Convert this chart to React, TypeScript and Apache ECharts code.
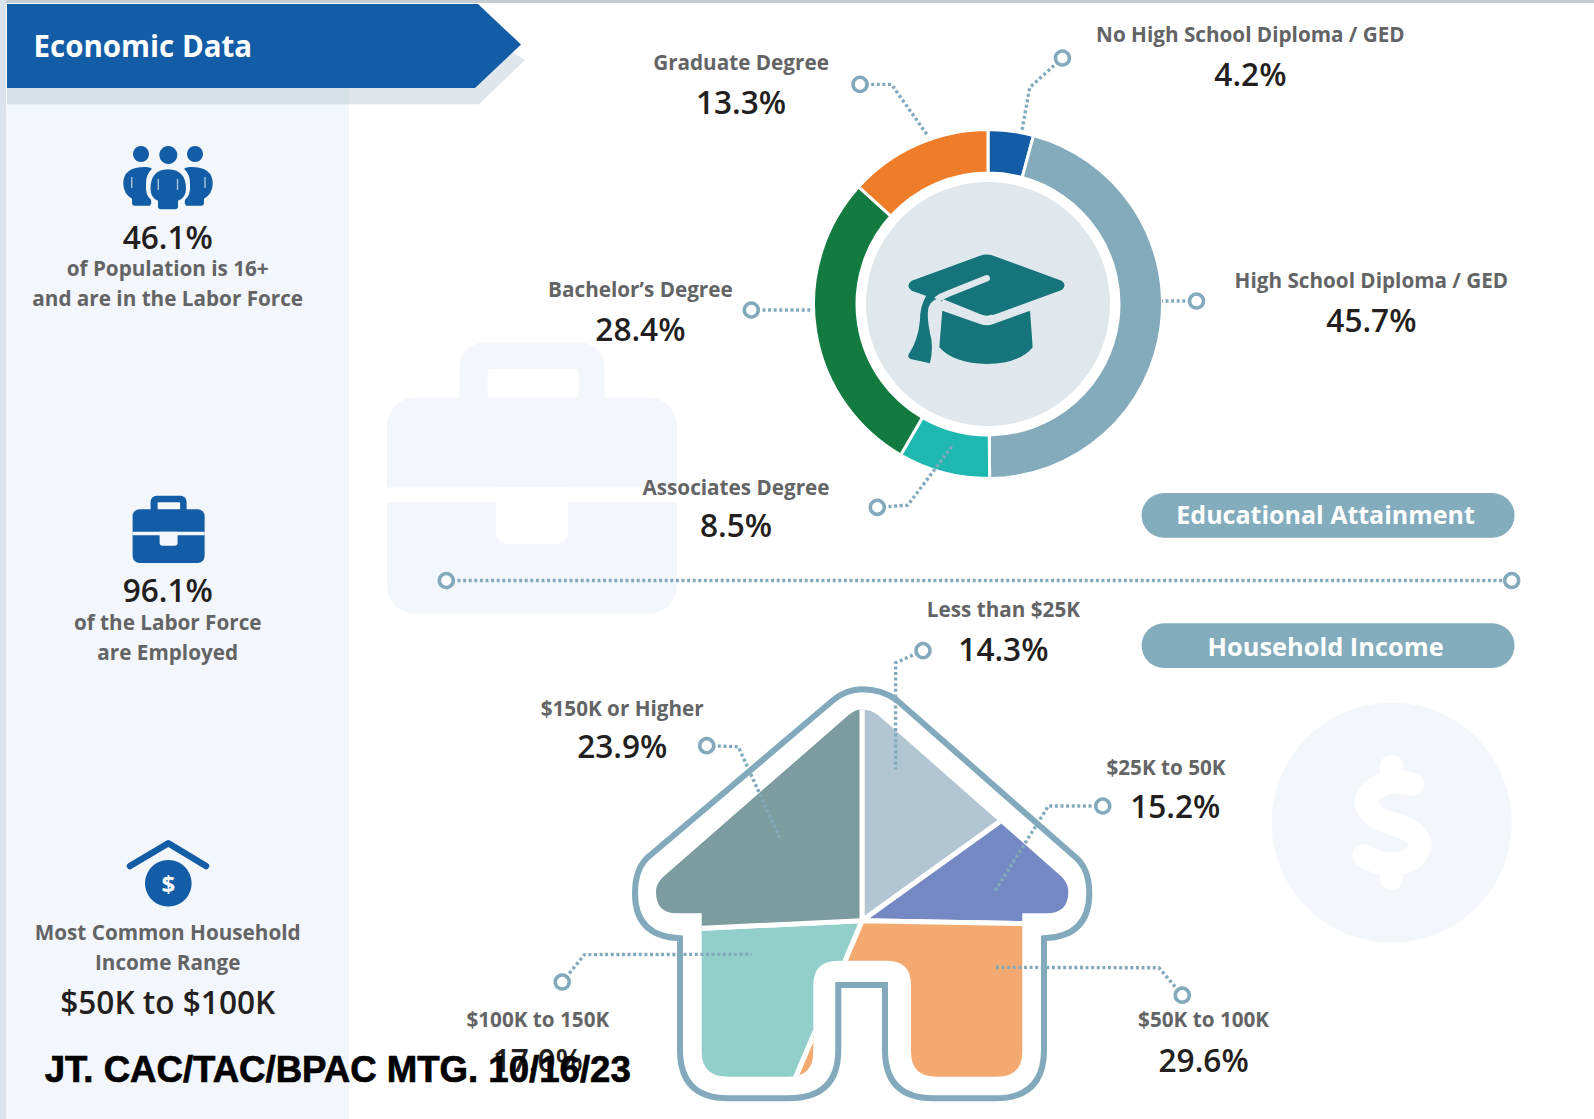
import React, { useEffect, useRef } from "react";
import * as echarts from "echarts";

// ---------- data ----------
const educationLabels = ["No High School Diploma / GED", "High School Diploma / GED", "Associates Degree", "Bachelor’s Degree", "Graduate Degree"];
const educationValues = [4.2, 45.7, 8.5, 28.4, 13.3];
const educationColors = ["#135ca6", "#84abbc", "#1fb8b1", "#137b40", "#ee7d29"];

const incomeLabels = ["Less than $25K", "$25K to 50K", "$50K to 100K", "$100K to 150K", "$150K or Higher"];
const incomeValues = [14.3, 15.2, 29.6, 17.0, 23.9];
// The reference's house is an illustration: the sweep of each wedge in degrees
const incomeDrawnSweep = [54.3, 36.7, 112, 64.3, 92.7];
const incomeColors = ["#b1c6d2", "#7489c3", "#f4a971", "#92cfca", "#7d9c9f"];

// ---------- layout ----------
const W = 1594, H = 1119;
const LINE = "#82aabc", GREY = "#636466", DARK = "#231f20", BLUE = "#135ca6", WASH = "#f3f6fa", CAP = "#15757a", DISC = "#e0e8ee";
const FONT = '"Open Sans", sans-serif';
const HOUSE_CENTER = [862, 920.7];

const fromZoom = (d: string, ox: number, oy: number, s: number) =>
  d.replace(/(-?[\d.]+) (-?[\d.]+)/g, (_m, a, b) => `${(ox + +a / s).toFixed(1)} ${(oy + +b / s).toFixed(1)}`);
const house = (d: string) => fromZoom(d, 600, 680, 3);
const cap = (d: string) => fromZoom(d, 780, 100, 3);

const HOUSE_INNER = house(
  "M 786 88 Q 815 90 835 106 L 1385 590 Q 1405 610 1405 635 Q 1405 700 1340 700 L 1267 700 L 1267 1115 Q 1267 1190 1190 1190 L 1010 1190 Q 933 1190 933 1115 L 933 915 Q 933 842 860 842 L 715 842 Q 640 842 640 915 L 640 1115 Q 640 1190 565 1190 L 385 1190 Q 305 1190 305 1115 L 305 700 L 230 700 Q 168 700 168 635 Q 168 610 190 590 L 745 106 Q 765 88 786 88 Z"
);
const HOUSE_OUTLINE = house(
  "M 786 28 Q 845 28 890 60 L 1430 535 Q 1468 570 1468 640 Q 1468 770 1332 775 L 1332 1110 Q 1332 1255 1185 1255 L 1000 1255 Q 855 1255 855 1110 L 855 915 L 715 915 L 715 1110 Q 715 1255 565 1255 L 385 1255 Q 240 1255 240 1110 L 240 775 Q 105 770 105 640 Q 105 570 140 535 L 700 60 Q 740 28 786 28 Z"
);
const CAP_TOP = cap(
  "M 600 467 Q 620 460 640 467 L 845 542 Q 862 555 845 570 L 640 645 Q 620 652 600 645 L 395 572 Q 375 557 395 542 Z"
);
const CAP_BASE = cap(
  "M 487 632 L 600 672 Q 620 680 640 672 L 750 632 L 758 742 Q 720 790 620 792 Q 520 790 478 742 Z"
);
const CAP_TASSEL = cap(
  "M 437 590 Q 420 620 420 660 Q 415 720 385 765 Q 383 775 395 778 L 450 790 Q 462 740 450 700 Q 440 650 445 625 Q 450 605 470 597 L 440 585 Z"
);
const CAP_RIBBON = cap("M 620 535 L 500 583 Q 465 595 450 625");
const CAP_BAND = cap("M 485 605 L 600 652 Q 620 660 640 652");
const PERSON_MID =
  "M168 169.3 Q186 169.7 186 188.7 Q186 197.7 178 200.7 L178 206.5 Q178 209.3 175 209.3 L161 209.3 Q158 209.3 158 206.5 L158 200.7 Q150.5 197.7 150.5 188.7 Q150.5 169.7 168 169.3 Z";
const PERSON_L =
  "M146 167 Q123 166.7 123.3 183.7 Q123.3 193.7 132 198.7 L132 202.7 Q132 205.7 135 205.7 L150 205.7 Q152 202.7 151 199.7 Q145 194.7 146 184.7 Q145.5 174.7 152 168.7 Q150 167 146 167 Z";
const PERSON_R =
  "M190 167 Q213 166.7 212.7 183.7 Q212.7 193.7 204 198.7 L204 202.7 Q204 205.7 201 205.7 L186 205.7 Q184 202.7 185 199.7 Q191 194.7 190 184.7 Q190.5 174.7 184 168.7 Q186 167 190 167 Z";
const DOLLAR_S = fromZoom(
  "M 458 283 Q 400 270 365 285 Q 310 310 320 345 Q 335 385 395 400 Q 480 425 480 465 Q 470 520 395 523 Q 345 520 312 497",
  1260, 690, 3
);

const shapes: Record<string, string> = {
  houseOutline: HOUSE_OUTLINE,
  capTop: CAP_TOP,
  capBase: CAP_BASE,
  capTassel: CAP_TASSEL,
  capRibbon: CAP_RIBBON,
  capBand: CAP_BAND,
  personMid: PERSON_MID,
  personL: PERSON_L,
  personR: PERSON_R,
  dollarS: DOLLAR_S,
};
Object.keys(shapes).forEach((k) => echarts.graphic.registerShape(k, echarts.graphic.extendPath(shapes[k], {})));

// ---------- graphic helpers ----------
const txt = (text: string, x: number, y: number, size: number, fill: string, weight: any = 600, align = "center", z = 7, family = FONT, extra: any = {}) => ({
  type: "text", x, y: y - 1, z, silent: true,
  style: { text, fontSize: size, fontWeight: weight, fontFamily: family, fill, textAlign: align, textVerticalAlign: "middle", ...extra },
});
const label = (text: string, x: number, y: number) => txt(text, x, y, 20.7, GREY, 700);
const value = (text: string, x: number, y: number) => txt(text, x, y, 31.6, DARK);
const ring = (x: number, y: number) => ({
  type: "circle", z: 6, silent: true, shape: { cx: x, cy: y, r: 7 }, style: { fill: "#fff", stroke: LINE, lineWidth: 3.5 },
});
const dots = (points: number[][]) => ({
  type: "polyline", z: 6, silent: true, shape: { points },
  style: { fill: "none", stroke: LINE, lineWidth: 3.4, lineDash: [3, 2.6] },
});
const rect = (x: number, y: number, width: number, height: number, fill: string, r: any = 0, z = 0) => ({
  type: "rect", z, silent: true, shape: { x, y, width, height, r }, style: { fill },
});
const circle = (cx: number, cy: number, r: number, fill: string, z = 6) => ({
  type: "circle", z, silent: true, shape: { cx, cy, r }, style: { fill },
});
const custom = (type: string, style: any, z = 6) => ({ type, z, silent: true, style });
const slit = (x: number, y1: number, y2: number) => ({
  type: "line", z: 7, silent: true, shape: { x1: x, y1, x2: x, y2 }, style: { stroke: "#a9c4dd", lineWidth: 1.4 },
});
const pct = (v: number) => `${v.toFixed(1)}%`;

const briefcase = (x: number, y: number, s: number, fill: string, gap: string, z: number) => [
  // proportions of the briefcase, in units of the small sidebar icon (72 wide, 67.3 tall)
  rect(x + 18 * s, y, 36 * s, 26 * s, fill, 6 * s, z),
  rect(x + 25 * s, y + 6.5 * s, 22.5 * s, 12 * s, gap, 1 * s, z),
  rect(x, y + 13.6 * s, 72 * s, 53.7 * s, fill, 7 * s, z),
  rect(x, y + 36 * s, 72 * s, 3.6 * s, gap, 0, z),
  rect(x + 27 * s, y + 36 * s, 18 * s, 14 * s, gap, [0, 0, 3 * s, 3 * s], z),
];

export default function App() {
  const ref = useRef<HTMLDivElement>(null);
  useEffect(() => {
    const chart = echarts.init(ref.current!, null, { renderer: "svg" });
    const [cx, cy] = HOUSE_CENTER;
    const elements: any[] = [
      // frame
      rect(0, 0, W, 3, "#c6cdd2", 0, 0),
      rect(0, 0, 6, H, "#dbe3ee", 0, 0),
      rect(6, 104.3, 343, H - 104.3, WASH, 0, 0),
      // banner
      { type: "polygon", z: 1, silent: true, shape: { points: [[7, 88], [490, 38], [525, 60], [479, 104.3], [7, 104.3]] }, style: { fill: "#dfe7ed" } },
      rect(7, 88, 342, 16.3, "#d5e1e6", 0, 1),
      { type: "polygon", z: 1, silent: true, shape: { points: [[7, 4], [478, 4], [521, 44.5], [475, 88], [7, 88]] }, style: { fill: BLUE } },
      txt("Economic Data", 33.5, 46.5, 29.5, "#fff", 700, "left"),
      // watermarks
      ...briefcase(387, 342.6, 290 / 72, WASH, "#fff", 0),
      circle(1391.7, 822.7, 120, WASH, 0),
      custom("dollarS", { fill: "none", stroke: "#fff", lineWidth: 23, lineCap: "round", lineJoin: "round" }, 0),
      rect(1380, 755, 23, 26, "#fff", 11, 0),
      rect(1380, 864, 23, 26, "#fff", 11, 0),
      // centre disc and cap
      circle(988, 304, 122, DISC, 0),
      custom("capTop", { fill: CAP }),
      custom("capBase", { fill: CAP }),
      custom("capRibbon", { fill: "none", stroke: DISC, lineWidth: 6.5, lineCap: "round" }),
      custom("capBand", { fill: "none", stroke: DISC, lineWidth: 6 }),
      custom("capTassel", { fill: CAP }),
      // house outline
      custom("houseOutline", { fill: "none", stroke: LINE, lineWidth: 6 }, 5),
      // sidebar: people
      circle(141, 154, 8, BLUE), circle(168.3, 155, 9, BLUE), circle(195, 154, 8, BLUE),
      custom("personL", { fill: BLUE }),
      custom("personMid", { fill: BLUE }),
      custom("personR", { fill: BLUE }),
      slit(158.3, 179, 190), slit(177.5, 179, 190), slit(131.7, 177, 188), slit(205, 177, 188),
      value("46.1%", 167.7, 237),
      label("of Population is 16+", 167.7, 269.4),
      label("and are in the Labor Force", 167.7, 298.9),
      // sidebar: briefcase
      ...briefcase(132.6, 495.7, 1, BLUE, WASH, 6),
      value("96.1%", 167.7, 590.6),
      label("of the Labor Force", 167.7, 623.2),
      label("are Employed", 167.7, 652.6),
      // sidebar: house & dollar
      {
        type: "polyline", z: 6, silent: true, shape: { points: [[130, 866], [168.3, 843.3], [206, 866]] },
        style: { fill: "none", stroke: BLUE, lineWidth: 6.5, lineCap: "round", lineJoin: "round" },
      },
      circle(168.3, 883.3, 23.3, BLUE),
      txt("$", 168.3, 884, 24, "#fff", 700),
      label("Most Common Household", 167.7, 933.2),
      label("Income Range", 167.7, 962.7),
      value("$50K to $100K", 167.7, 1002.4),
      // education labels
      label(educationLabels[4], 741, 63), value(pct(educationValues[4]), 741, 102.7),
      label(educationLabels[0], 1250.4, 34.6), value(pct(educationValues[0]), 1250.4, 74.5),
      label(educationLabels[1], 1371.4, 280.6), value(pct(educationValues[1]), 1371.4, 320.2),
      label(educationLabels[3], 640.4, 289.7), value(pct(educationValues[3]), 640.4, 329.4),
      label(educationLabels[2], 736, 488), value(pct(educationValues[2]), 736, 525.6),
      // pills
      rect(1141.6, 493, 373, 44.8, "#83acbd", 22.4, 3),
      txt("Educational Attainment", 1325.6, 515.4, 25, "#fff", 700),
      rect(1141.6, 623.2, 373, 44.8, "#83acbd", 22.4, 3),
      txt("Household Income", 1325.6, 646.6, 25.4, "#fff", 700),
      // income labels
      label(incomeLabels[0], 1003.4, 610), value(pct(incomeValues[0]), 1003.4, 649.6),
      label(incomeLabels[4], 622.2, 708.5), value(pct(incomeValues[4]), 622.2, 746.2),
      label(incomeLabels[1], 1166, 767.5), value(pct(incomeValues[1]), 1175.2, 806.2),
      label(incomeLabels[3], 537.8, 1019.6), value(pct(incomeValues[3]), 537.8, 1060.3),
      label(incomeLabels[2], 1203.6, 1019.6), value(pct(incomeValues[2]), 1203.6, 1060.3),
      // connectors
      dots([[860, 84.4], [891.5, 84.4], [928, 136]]), ring(860, 84.4),
      dots([[1062.4, 58], [1029.8, 87.4], [1021.7, 132]]), ring(1062.4, 58),
      dots([[1196.5, 301], [1162, 301]]), ring(1196.5, 301),
      dots([[751.3, 310], [813, 310]]), ring(751.3, 310),
      dots([[877.3, 507.3], [907.8, 505.2], [953.6, 444.2]]), ring(877.3, 507.3),
      dots([[446.3, 580.5], [1511.7, 580.5]]), ring(446.3, 580.5), ring(1511.7, 580.5),
      dots([[923, 650.6], [895.6, 662.8], [895.6, 769.6]]), ring(923, 650.6),
      dots([[706.7, 745.7], [738.3, 746.7], [781, 840.7]]), ring(706.7, 745.7),
      dots([[1102.7, 806], [1048.3, 806], [995, 891]]), ring(1102.7, 806),
      dots([[562.2, 982], [584.5, 954.6], [751.7, 954.3]]), ring(562.2, 982),
      dots([[1182.3, 995.2], [1159, 967.8], [995, 967.3]]), ring(1182.3, 995.2),
      // stamp
      txt("JT. CAC/TAC/BPAC MTG. 10/16/23", 44.7, 1070, 36.6, "#000", 700, "left", 9, '"Liberation Sans", Arial, sans-serif', { stroke: "#000", lineWidth: 0.7 }),
    ];

    chart.setOption({
      animation: false,
      backgroundColor: "#fff",
      graphic: { elements },
      series: [
        {
          type: "pie",
          silent: true,
          center: [988, 304],
          radius: [131, 174.5],
          startAngle: 90,
          clockwise: true,
          label: { show: false },
          labelLine: { show: false },
          itemStyle: { borderColor: "#fff", borderWidth: 3 },
          data: educationValues.map((v, i) => ({ name: educationLabels[i], value: v, itemStyle: { color: educationColors[i] } })),
        },
        {
          type: "custom",
          coordinateSystem: "none",
          silent: true,
          data: incomeDrawnSweep.map((s, i) => [s, incomeValues[i]]),
          renderItem: (params: any, api: any) => {
            const i = params.dataIndex;
            const from = incomeDrawnSweep.slice(0, i).reduce((a, b) => a + b, 0);
            const sweep = api.value(0);
            const toRad = (d: number) => ((d - 90) * Math.PI) / 180;
            return {
              type: "sector",
              shape: { cx, cy, r0: 0, r: 800, startAngle: toRad(from), endAngle: toRad(from + sweep), clockwise: true },
              style: { fill: incomeColors[i], stroke: "#fff", lineWidth: 5 },
              clipPath: { type: "path", shape: { pathData: HOUSE_INNER } },
            };
          },
        },
      ],
    });
    return () => chart.dispose();
  }, []);
  return <div ref={ref} style={{ position: "absolute", left: 0, top: 0, width: W, height: H }} />;
}
